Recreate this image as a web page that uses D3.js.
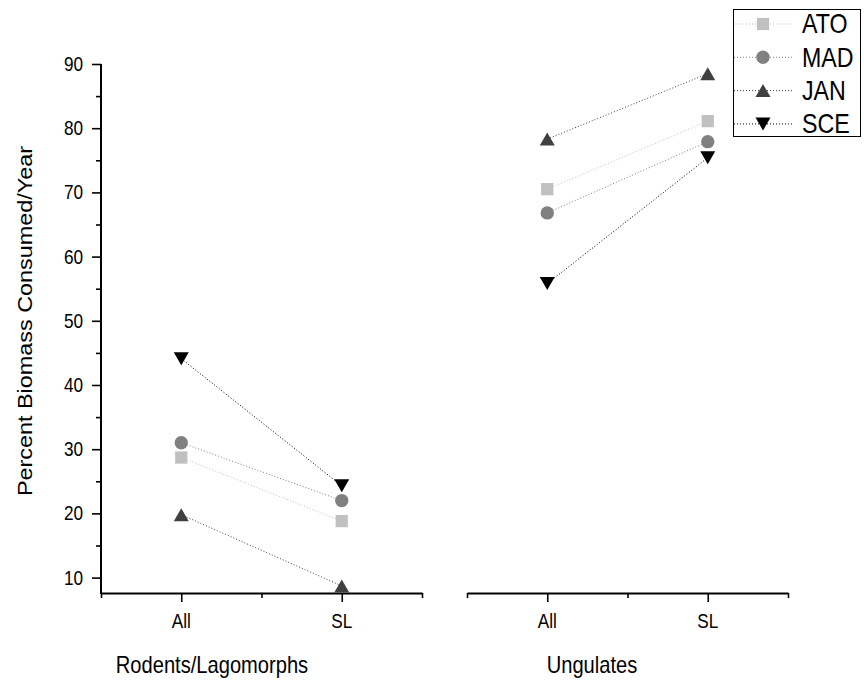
<!DOCTYPE html>
<html><head><meta charset="utf-8">
<script src="https://cdn.jsdelivr.net/npm/d3@7"></script>
<style>body{margin:0;background:#fff}svg{display:block}text{font-family:"Liberation Sans",Arial,sans-serif}</style>
</head><body>
<script>
const seriesNames = ["ATO", "MAD", "JAN", "SCE"];
const seriesColors = ["#c0c0c0", "#808080", "#404040", "#000000"];
const seriesShapes = ["square", "circle", "triangleUp", "triangleDown"];
const categories = ["All", "SL"];
const panels = ["Rodents/Lagomorphs", "Ungulates"];
// values per series, [All, SL]
const rodentsValues = [[28.7, 18.8], [31.0, 22.0], [19.8, 8.7], [44.1, 24.3]];
const ungulatesValues = [[70.5, 81.1], [66.8, 77.9], [78.3, 88.5], [55.8, 75.4]];
const yTicks = [10, 20, 30, 40, 50, 60, 70, 80, 90];
const yMinorTicks = [15, 25, 35, 45, 55, 65, 75, 85];
const yTitle = "Percent Biomass Consumed/Year";

const W = 864, H = 683;
const SX = 0.86; // horizontal squeeze of glyphs
const svg = d3.select("body").append("svg").attr("width", W).attr("height", H);

const y = d3.scaleLinear().domain([7.6, 90]).range([593, 64]);
const panelRanges = [[101, 422], [467, 788]];
const panelData = [rodentsValues, ungulatesValues];
const titleCenters = [212, 592];

function shapePath(shape) {
  if (shape === "square") return d3.symbol(d3.symbolSquare, 150)();
  if (shape === "circle") return d3.symbol(d3.symbolCircle, 140)();
  const w = 15, h = 13;
  if (shape === "triangleUp") return `M${-w/2},${h/2}L${w/2},${h/2}L0,${-h/2}Z`;
  return `M${-w/2},${-h/2}L${w/2},${-h/2}L0,${h/2}Z`;
}

function addText(g, x, yy, str, size, anchor) {
  return g.append("text").attr("transform", `translate(${x},${yy}) scale(${SX},1)`)
    .attr("text-anchor", anchor || "middle").attr("font-size", size).attr("fill", "#000").text(str);
}

// y axis
const yAxisG = svg.append("g").attr("transform", "translate(101,0)");
yAxisG.call(d3.axisLeft(y).tickValues(yTicks).tickSize(9).tickFormat("").tickSizeOuter(0));
yAxisG.append("g").call(d3.axisLeft(y).tickValues(yMinorTicks).tickSize(5).tickFormat("").tickSizeOuter(0))
  .select(".domain").remove();
yAxisG.selectAll(".domain").attr("stroke-width", 2).attr("d", `M0,${y(90)}V${y.range()[0]+1}`);
yAxisG.selectAll(".tick line").attr("stroke-width", 1.6);
yTicks.forEach(t => {
  addText(yAxisG, -18, y(t), String(t), 20, "end").attr("dy", "0.35em");
});

svg.append("text").attr("transform", `translate(32,${321}) rotate(-90) scale(1,${SX})`)
  .attr("text-anchor", "middle").attr("font-size", 23.4).text(yTitle);

panelData.forEach((vals, p) => {
  const x = d3.scaleLinear().domain([0.5, 2.5]).range(panelRanges[p]);
  const g = svg.append("g");
  const ax = g.append("g").attr("transform", "translate(0,593)");
  ax.call(d3.axisBottom(x).tickValues([1, 2]).tickSize(9).tickFormat("").tickSizeOuter(0));
  ax.select(".domain").attr("stroke-width", 2);
  ax.selectAll(".tick line").attr("stroke-width", 1.6);
  [1, 2].forEach(c => addText(ax, x(c), 35, categories[c - 1], 20));
  const mx = ax.append("g");
  mx.call(d3.axisBottom(x).tickValues([0.5, 1.5, 2.5]).tickSize(5).tickFormat("").tickSizeOuter(0));
  mx.select(".domain").remove();
  mx.selectAll(".tick line").attr("stroke-width", 1.6);

  addText(g, titleCenters[p], 673, panels[p], 23.4);

  vals.forEach((v, s) => {
    const pts = v.map((val, i) => [x(i + 1), y(val)]);
    g.append("path").attr("d", d3.line()(pts)).attr("fill", "none")
      .attr("stroke", seriesColors[s]).attr("stroke-width", 1).attr("stroke-dasharray", "1,2");
  });
  vals.forEach((v, s) => {
    v.forEach((val, i) => {
      g.append("path").attr("d", shapePath(seriesShapes[s]))
        .attr("transform", `translate(${x(i + 1)},${y(val)})`).attr("fill", seriesColors[s]);
    });
  });
});

// legend
const lg = svg.append("g");
lg.append("rect").attr("x", 733.5).attr("y", 9.5).attr("width", 127).attr("height", 127)
  .attr("fill", "#fff").attr("stroke", "#000").attr("stroke-width", 1);
seriesNames.forEach((name, s) => {
  const cy = 24 + s * 33.3;
  lg.append("line").attr("x1", 734).attr("x2", 793).attr("y1", cy).attr("y2", cy)
    .attr("stroke", seriesColors[s]).attr("stroke-width", 1).attr("stroke-dasharray", "1,2");
  lg.append("path").attr("d", shapePath(seriesShapes[s])).attr("transform", `translate(763,${cy})`)
    .attr("fill", seriesColors[s]);
  addText(lg, 802, cy, name, 27, "start").attr("dy", "0.35em");
});
</script>
</body></html>
